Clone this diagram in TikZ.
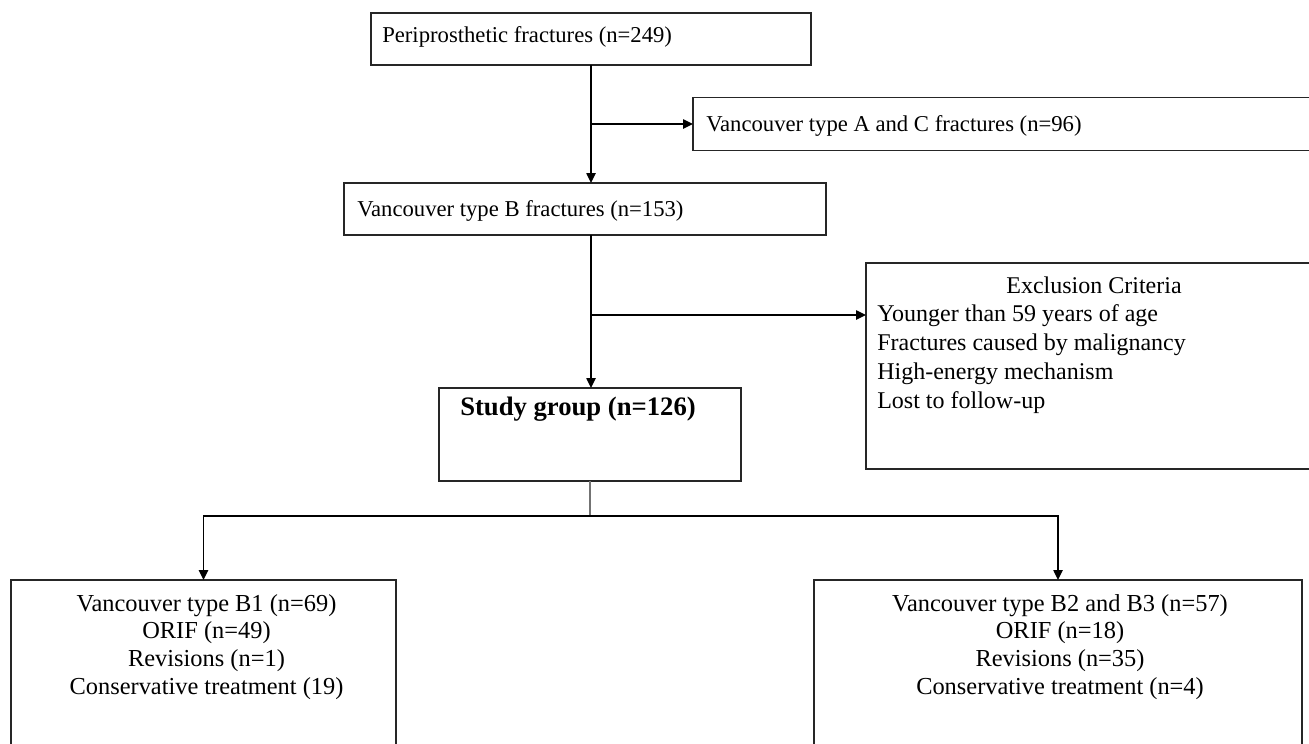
\documentclass[tikz,border=0pt]{standalone}
\usepackage{fontspec}
\setmainfont{Liberation Serif}
\usetikzlibrary{arrows.meta}
\begin{document}
\begin{tikzpicture}[x=0.75pt,y=-0.75pt,
  box/.style={draw=black!85, line width=1pt, inner sep=0pt, outer sep=0pt},
  txt/.style={inner sep=0pt, font=\fontsize{18}{21}\selectfont},
  toptxt/.style={inner sep=0pt, font=\fontsize{17}{20}\selectfont, anchor=base west},
  bottxt/.style={inner sep=0pt, font=\fontsize{18.3}{21}\selectfont, anchor=base},
  conn/.style={draw=black, line width=1.1pt},
  arr/.style={conn, -{Triangle[length=7.5pt,width=7pt]}},
  darr/.style={conn, {Triangle[length=7.5pt,width=7pt]}-{Triangle[length=7.5pt,width=7pt]}},
  thinconn/.style={draw=black!55, line width=0.8pt}]
\fill[white] (0,0) rectangle (1309,743);
\clip (0,0) rectangle (1309,743);

% boxes
\node[box, minimum width=330pt, minimum height=39pt] (b1) at (591,39) {};
\node[box, minimum width=470.25pt, minimum height=39.75pt] (b2) at (1006.5,124) {};
\node[box, minimum width=361.5pt, minimum height=39pt] (b3) at (585,209) {};
\node[box, minimum width=342pt, minimum height=154.5pt] (ex) at (1094,366) {};
\node[box, minimum width=226.5pt, minimum height=69.75pt] (sg) at (590,434.5) {};
\node[box, minimum width=288.75pt, minimum height=135pt] (b6) at (203.5,670) {};
\node[box, minimum width=366pt, minimum height=135pt] (b7) at (1058,670) {};

% texts
\node[toptxt] (b1t) at (382,42) {Periprosthetic fractures (n=249)};
\node[toptxt] (b2t) at (706,131) {Vancouver type A and C fractures (n=96)};
\node[toptxt] (b3t) at (357,216) {Vancouver type B fractures (n=153)};
\node[txt, anchor=base] (ext) at (1094,293) {Exclusion Criteria};
\foreach \t [count=\i from 0] in {Younger than 59 years of age,
    Fractures caused by malignancy, High-energy mechanism, Lost to follow-up}
  \node[txt, anchor=base west] (exl\i) at (877,{321+29*\i}) {\t};
\node[inner sep=0pt, anchor=base, font=\fontsize{20}{23}\selectfont\bfseries] (sgt) at (578,415)
  {Study group (n=126)};
\foreach \t [count=\i from 0] in {Vancouver type B1 (n=69), ORIF (n=49),
    Revisions (n=1), Conservative treatment (19)}
  \node[bottxt] (b6l\i) at (206.5,{611+27.7*\i}) {\t};
\foreach \t [count=\i from 0] in {Vancouver type B2 and B3 (n=57), ORIF (n=18),
    Revisions (n=35), Conservative treatment (n=4)}
  \node[bottxt] (b7l\i) at (1060,{611+27.7*\i}) {\t};

% connectors
\coordinate (j1) at (b1.south |- b2.west);
\coordinate (j2) at (591,315);
\coordinate (j3) at (590,516);
\draw[arr] (b1.south) -- (b1.south |- b3.north);
\draw[arr] (j1) -- (b2.west);
\draw[arr] (b1.south |- b3.south) -- (b1.south |- sg.north);
\draw[arr] (j2) -- (j2 -| ex.west);
\draw[thinconn] (sg.south) -- (j3);
\draw[darr] (b6.north) -- (b6.north |- j3) -- (b7.north |- j3) -- (b7.north);
\end{tikzpicture}
\end{document}
